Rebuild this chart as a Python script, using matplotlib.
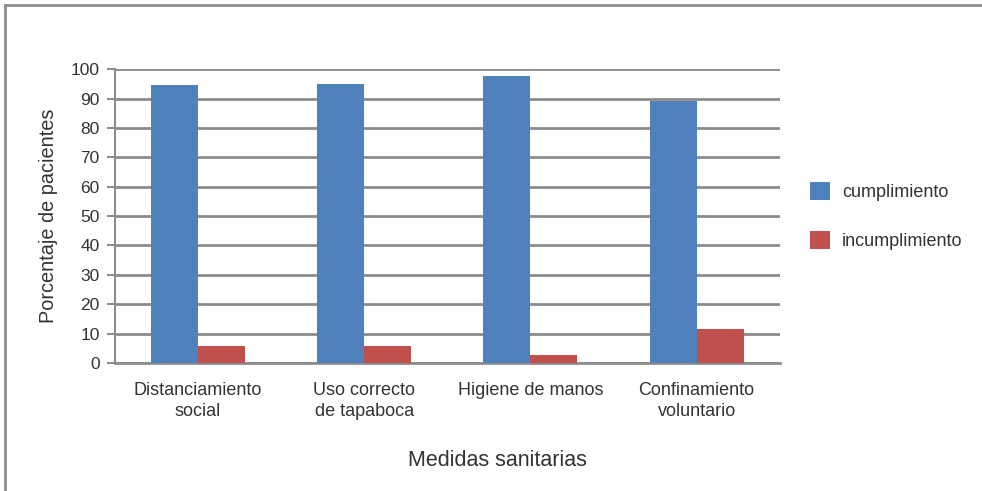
import numpy as np
import matplotlib.pyplot as plt
from matplotlib.lines import Line2D

plt.rcParams['font.family'] = ['Liberation Sans', 'DejaVu Sans']

categorias = ['Distanciamiento\nsocial', 'Uso correcto\nde tapaboca',
              'Higiene de manos', 'Confinamiento\nvoluntario']
cumplimiento = [94.8, 95.0, 97.7, 89.3]
incumplimiento = [5.9, 5.9, 2.7, 11.6]
yticks = list(range(0, 101, 10))

azul = '#4F81BD'
rojo = '#C0504D'
gris = '#8C8C8C'
texto = '#333333'

fig = plt.figure(figsize=(9.82, 4.91), dpi=100)
ax = fig.add_axes([0.117, 0.2607, 0.677, 0.5983])

x = np.arange(len(categorias))
w = 0.283
ax.bar(x - w / 2, cumplimiento, w, color=azul, label='cumplimiento', zorder=3)
ax.bar(x + w / 2, incumplimiento, w, color=rojo, label='incumplimiento', zorder=3)

ax.set_xlim(-0.5, len(categorias) - 0.5)
ax.set_ylim(0, 100)
ax.set_yticks(yticks)
ax.yaxis.grid(True, color=gris, linewidth=2, zorder=0)
ax.set_axisbelow(True)

for s in ['top', 'right']:
    ax.spines[s].set_visible(False)
ax.spines['left'].set_color(gris)
ax.spines['left'].set_linewidth(1.5)
ax.spines['bottom'].set_color(gris)
ax.spines['bottom'].set_linewidth(2)

ax.set_xticks(x)
ax.set_xticklabels(categorias, fontsize=13, color=texto, linespacing=1.3)
ax.tick_params(axis='x', length=0, pad=14)
ax.tick_params(axis='y', length=6, width=1.5, color=gris, labelsize=12.5,
               labelcolor=texto, pad=5)

ax.set_ylabel('Porcentaje de pacientes', fontsize=14.3, color=texto, labelpad=9)
fig.text(497 / 982, 1 - 461 / 491, 'Medidas sanitarias', fontsize=15.5,
         color=texto, ha='center', va='center')

ax.legend(loc='center left', bbox_to_anchor=(0.808, 0.56),
          bbox_transform=fig.transFigure, frameon=False, fontsize=13,
          labelcolor=texto, handlelength=1.15, handleheight=1.15,
          labelspacing=1.65, handletextpad=0.65)

# marco gris superior e izquierdo
fig.add_artist(Line2D([5 / 982, 5 / 982], [0, 1 - 5 / 491], color=gris,
                      linewidth=2, transform=fig.transFigure))
fig.add_artist(Line2D([5 / 982, 1], [1 - 5 / 491, 1 - 5 / 491], color=gris,
                      linewidth=2, transform=fig.transFigure))

fig.savefig('out.png', dpi=100)
